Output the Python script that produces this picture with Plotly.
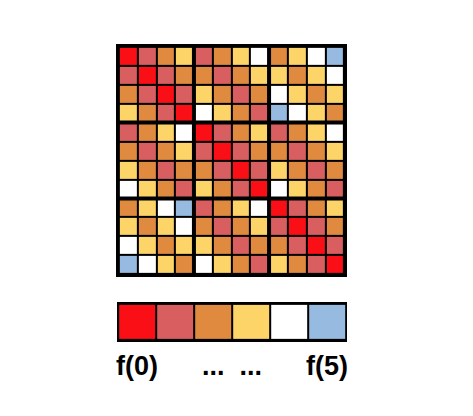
import plotly.graph_objects as go

# 0 = f(0) ... 5 = f(5)
level_colors = ["#FB0F16", "#D85E60", "#E08A40", "#FDD468", "#FFFFFF", "#97BBE0"]
legend_levels = [0, 1, 2, 3, 4, 5]
legend_labels = ["f(0)", "...&nbsp;&nbsp;...", "f(5)"]
legend_label_pos = [0, 2.5, 5]

cell_levels = [
    [0, 1, 2, 3, 1, 2, 3, 4, 2, 3, 4, 5],
    [1, 0, 1, 2, 2, 1, 2, 3, 3, 2, 3, 4],
    [2, 1, 0, 1, 3, 2, 1, 2, 4, 3, 2, 3],
    [3, 2, 1, 0, 4, 3, 2, 1, 5, 4, 3, 2],
    [1, 2, 3, 4, 0, 1, 2, 3, 1, 2, 3, 4],
    [2, 1, 2, 3, 1, 0, 1, 2, 2, 1, 2, 3],
    [3, 2, 1, 2, 2, 1, 0, 1, 3, 2, 1, 2],
    [4, 3, 2, 1, 3, 2, 1, 0, 4, 3, 2, 1],
    [2, 3, 4, 5, 1, 2, 3, 4, 0, 1, 2, 3],
    [3, 2, 3, 4, 2, 1, 2, 3, 1, 0, 1, 2],
    [4, 3, 2, 3, 3, 2, 1, 2, 2, 1, 0, 1],
    [5, 4, 3, 2, 4, 3, 2, 1, 3, 2, 1, 0],
]

n = len(level_colors)
colorscale = []
for k, c in enumerate(level_colors):
    colorscale.append([k / n, c])
    colorscale.append([(k + 1) / n, c])

OFF = 8  # page body margin
W, H = 473 - OFF, 416 - OFF


def px_x(v):
    return (v - OFF) / W


def px_y(v):
    return 1 - (v - OFF) / H


fig = go.Figure()

fig.add_trace(go.Heatmap(
    z=cell_levels, colorscale=colorscale, zmin=-0.5, zmax=n - 0.5,
    showscale=False, xgap=2, ygap=2, hoverinfo="skip",
    xaxis="x", yaxis="y",
))
fig.add_trace(go.Heatmap(
    z=[legend_levels], colorscale=colorscale, zmin=-0.5, zmax=n - 0.5,
    showscale=False, xgap=2, ygap=2, hoverinfo="skip",
    xaxis="x2", yaxis="y2",
))

shapes = []
for b in [3.5, 7.5]:
    shapes.append(dict(type="line", xref="x", yref="y domain", x0=b, x1=b, y0=0, y1=1,
                       line=dict(color="black", width=4)))
    shapes.append(dict(type="line", yref="y", xref="x domain", y0=b, y1=b, x0=0, x1=1,
                       line=dict(color="black", width=4)))

annotations = []
for lab, pos in zip(legend_labels, legend_label_pos):
    annotations.append(dict(
        x=pos, xref="x2", y=px_y(366), yref="paper", text="<b>" + lab + "</b>",
        showarrow=False, xanchor="center", yanchor="middle",
        font=dict(family="Liberation Sans, Arial, sans-serif", size=27, color="black"),
    ))

noax = dict(showgrid=False, zeroline=False, showticklabels=False, ticks="", showline=False)
fig.update_layout(
    width=W, height=H, margin=dict(l=0, r=0, t=0, b=0),
    paper_bgcolor="white", plot_bgcolor="black",
    xaxis=dict(domain=[px_x(116), px_x(347)], range=[-0.65, 11.65], **noax),
    yaxis=dict(domain=[px_y(277), px_y(44)], range=[11.65, -0.65], **noax),
    xaxis2=dict(domain=[px_x(117), px_x(347)], range=[-0.53, 5.53], anchor="y2", **noax),
    yaxis2=dict(domain=[px_y(342), px_y(302)], range=[-0.55, 0.55], anchor="x2", **noax),
    shapes=shapes, annotations=annotations, showlegend=False,
)

fig.write_html("out.html")
